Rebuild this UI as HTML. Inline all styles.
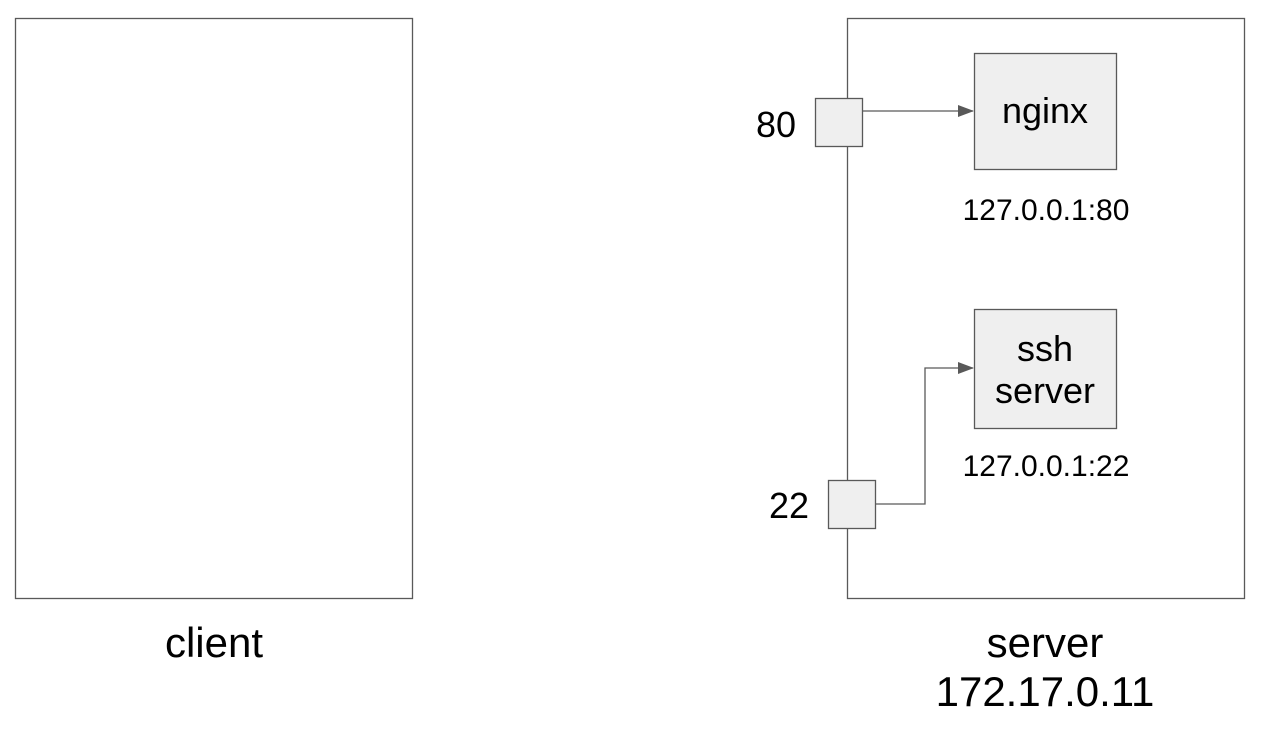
<!DOCTYPE html>
<html><head><style>body{margin:0;background:#fff}</style></head><body>
<svg width="1262" height="736" xmlns="http://www.w3.org/2000/svg" style="display:block">
<defs><marker id="a" markerWidth="16" markerHeight="12" refX="15" refY="6" orient="auto" markerUnits="userSpaceOnUse"><path d="M0,0 L16,6 L0,12z" fill="#595959"/></marker></defs>
<g fill="none" stroke="#595959" stroke-width="1.3">
<rect x="15.5" y="18.5" width="397" height="580"/>
<rect x="847.5" y="18.5" width="397" height="580"/>
</g>
<g fill="#efefef" stroke="#595959" stroke-width="1.3">
<rect x="815.5" y="98.5" width="47" height="48"/>
<rect x="828.5" y="480.5" width="47" height="48"/>
<rect x="974.5" y="53.5" width="142" height="116"/>
<rect x="974.5" y="309.5" width="142" height="119"/>
</g>
<g fill="none" stroke="#595959" stroke-width="1.3">
<path d="M862.5 111 H973" marker-end="url(#a)"/>
<path d="M875.5 504 H925 V368 H973" marker-end="url(#a)"/>
</g>
<g font-family="Liberation Sans, sans-serif" fill="#000" text-anchor="middle">
<text x="1045" y="123" font-size="36">nginx</text>
<text x="1045" y="361" font-size="36">ssh</text>
<text x="1045" y="403" font-size="36">server</text>
<text x="1046" y="220" font-size="30">127.0.0.1:80</text>
<text x="1046" y="476" font-size="30">127.0.0.1:22</text>
<text x="776" y="137" font-size="36">80</text>
<text x="789" y="518" font-size="36">22</text>
<text x="214" y="657" font-size="42">client</text>
<text x="1045" y="657" font-size="42">server</text>
<text x="1045" y="706" font-size="42">172.17.0.11</text>
</g>
</svg>
</body></html>
